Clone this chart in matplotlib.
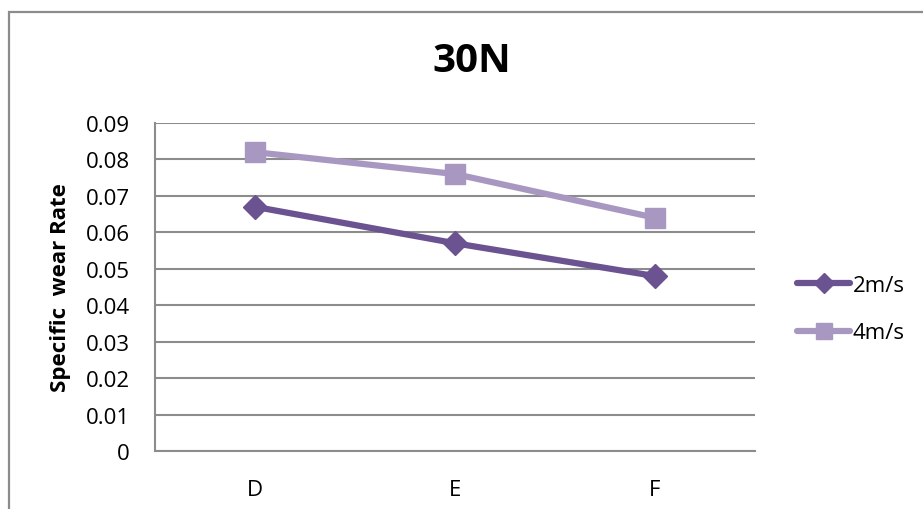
import matplotlib

matplotlib.use('Agg')
import matplotlib.pyplot as plt
from matplotlib.patches import Rectangle

# Wear data at 30N load
categories = ['D', 'E', 'F']
rate_2ms = [0.067, 0.057, 0.048]
rate_4ms = [0.082, 0.076, 0.064]
y_ticks = [0, 0.01, 0.02, 0.03, 0.04, 0.05, 0.06, 0.07, 0.08, 0.09]

plt.rcParams['font.family'] = ['Open Sans', 'DejaVu Sans']

dpi = 100
fig = plt.figure(figsize=(923 / dpi, 510 / dpi), dpi=dpi)
ax = fig.add_axes([155 / 923, 1 - 452 / 510, 600 / 923, 328 / 510])

# Chart border (runs off the right and bottom edges)
fig.patches.append(Rectangle((9 / 923, -0.1), 1.2, 1 - 12.5 / 510 + 0.1,
                             transform=fig.transFigure, fill=False,
                             edgecolor='#8c8c8c', linewidth=1.6))

x = list(range(len(categories)))
ax.plot(x, rate_2ms, color='#6a5390', linewidth=4.5, marker='D',
        markersize=12, label='2m/s', solid_capstyle='round')
ax.plot(x, rate_4ms, color='#a898c1', linewidth=4.5, marker='s',
        markersize=14, label='4m/s', solid_capstyle='round')

ax.set_xlim(-0.5, 2.5)
ax.set_ylim(0, 0.09)
ax.set_xticks(x)
ax.set_xticklabels(categories)
ax.set_yticks(y_ticks)
ax.set_yticklabels(['0'] + [f'{v:.2f}' for v in y_ticks[1:]])
ax.tick_params(axis='both', length=0, labelsize=16, colors='black')
ax.tick_params(axis='y', pad=18)
ax.tick_params(axis='x', pad=20)

ax.grid(axis='y', color='#8c8c8c', linewidth=1.5)
ax.set_axisbelow(True)
for side in ['top', 'right']:
    ax.spines[side].set_visible(False)
for side in ['left', 'bottom']:
    ax.spines[side].set_color('#8c8c8c')
    ax.spines[side].set_linewidth(1.5)

ax.set_ylabel('Specific  wear Rate', fontsize=16, fontweight='bold', labelpad=11)
fig.text(472 / 923, 1 - 61 / 510, '30N', fontsize=29, fontweight='bold',
         ha='center', va='center')

ax.legend(loc='center left', bbox_to_anchor=(777 / 923, 1 - 310 / 510),
          bbox_transform=fig.transFigure, frameon=False, fontsize=16,
          handlelength=2.4, handletextpad=0.1, labelspacing=1.2,
          markerscale=0.85)

plt.savefig('out.png', dpi=dpi)
plt.close(fig)
